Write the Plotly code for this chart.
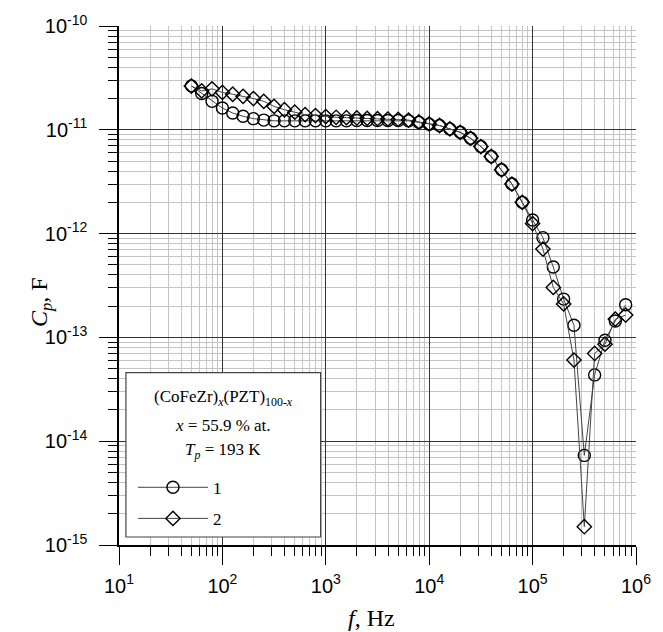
import plotly.graph_objects as go

# Frequencies (Hz)
freq = [50.1, 63.1, 79.4, 100, 125.9, 158.5, 199.5, 251.2, 316.2, 398.1,
        501.2, 631.0, 794.3, 1000, 1259, 1585, 1995, 2512, 3162, 3981,
        5012, 6310, 7943, 10000, 12589, 15849, 19953, 25119, 31623, 39811,
        50119, 63096, 79433, 100000, 125893, 158489, 199526, 251189, 316228,
        398107, 501187, 630957, 794328]

# Series 1 (circles), Cp in F
cp1 = [2.65e-11, 2.24e-11, 1.88e-11, 1.62e-11, 1.45e-11, 1.35e-11, 1.28e-11,
       1.24e-11, 1.22e-11, 1.22e-11, 1.22e-11, 1.22e-11, 1.22e-11, 1.22e-11,
       1.22e-11, 1.22e-11, 1.23e-11, 1.23e-11, 1.23e-11, 1.23e-11, 1.23e-11,
       1.22e-11, 1.18e-11, 1.13e-11, 1.10e-11, 1.02e-11, 9.46e-12, 8.28e-12,
       6.90e-12, 5.53e-12, 4.12e-12, 3.00e-12, 2.00e-12, 1.35e-12, 9.14e-13,
       4.77e-13, 2.34e-13, 1.31e-13, 7.3e-15, 4.35e-14, 9.4e-14, 1.44e-13,
       2.06e-13]

# Series 2 (diamonds), Cp in F
cp2 = [2.64e-11, 2.37e-11, 2.48e-11, 2.29e-11, 2.20e-11, 2.10e-11, 2.00e-11,
       1.88e-11, 1.68e-11, 1.56e-11, 1.48e-11, 1.40e-11, 1.37e-11, 1.34e-11,
       1.32e-11, 1.31e-11, 1.30e-11, 1.29e-11, 1.28e-11, 1.27e-11, 1.26e-11,
       1.24e-11, 1.19e-11, 1.14e-11, 1.10e-11, 1.02e-11, 9.46e-12, 8.28e-12,
       6.90e-12, 5.53e-12, 4.12e-12, 3.00e-12, 2.00e-12, 1.25e-12, 7.1e-13,
       3.03e-13, 2.10e-13, 6.05e-14, 1.5e-15, 7.0e-14, 8.6e-14, 1.5e-13,
       1.64e-13]

x_tickvals = [1e1, 1e2, 1e3, 1e4, 1e5, 1e6]
x_ticktext = ["10<sup>1</sup>", "10<sup>2</sup>", "10<sup>3</sup>",
              "10<sup>4</sup>", "10<sup>5</sup>", "10<sup>6</sup>"]
y_tickvals = [1e-15, 1e-14, 1e-13, 1e-12, 1e-11, 1e-10]
y_ticktext = ["10<sup>-15</sup>", "10<sup>-14</sup>", "10<sup>-13</sup>",
              "10<sup>-12</sup>", "10<sup>-11</sup>", "10<sup>-10</sup>"]

series_names = ["1", "2"]

fig = go.Figure()
fig.add_trace(go.Scatter(
    x=freq, y=cp1, mode="lines+markers", name=series_names[0],
    legendgroup="a",
    line=dict(color="#444444", width=1),
    marker=dict(symbol="circle-open", size=12, color="black",
                line=dict(width=1.4, color="black")),
))
fig.add_trace(go.Scatter(
    x=freq, y=cp2, mode="lines+markers", name=series_names[1],
    legendgroup="b",
    line=dict(color="#444444", width=1),
    marker=dict(symbol="diamond-open", size=11, color="black",
                line=dict(width=1.4, color="black")),
))

tick_font = dict(family="Liberation Sans, Arial, sans-serif", size=20, color="black")
serif = "Liberation Serif, Times New Roman, serif"

common = dict(
    type="log", tickfont=tick_font,
    ticks="outside", ticklen=18, tickwidth=1.3, tickcolor="black",
    showline=True, linecolor="black", linewidth=1.5,
    showgrid=True, gridcolor="#333333", gridwidth=1,
    minor=dict(dtick="D1", ticks="outside", ticklen=9, tickwidth=1.2,
               tickcolor="black", showgrid=True, gridcolor="#c4c4c4", gridwidth=1),
    zeroline=False,
)
fig.update_xaxes(range=[1, 6], tickvals=x_tickvals, ticktext=x_ticktext,
                 ticklabelstandoff=4, **common)
fig.update_yaxes(range=[-15, -10], tickvals=y_tickvals, ticktext=y_ticktext,
                 ticklabelstandoff=8, **common)

# Axis titles
fig.add_annotation(text="<i>f</i>, Hz", x=0.4885, y=-0.140, xref="paper", yref="paper",
                   showarrow=False, xanchor="center", yanchor="middle",
                   font=dict(family=serif, size=24, color="black"))
fig.add_annotation(text="<i>C</i><sub><i>p</i></sub>, F", x=-0.151, y=0.468,
                   xref="paper", yref="paper", textangle=-90,
                   showarrow=False, xanchor="center", yanchor="middle",
                   font=dict(family=serif, size=24, color="black"))

# Legend box and header text
fig.add_shape(type="rect", xref="paper", yref="paper",
              x0=0.0134, x1=0.390, y0=0.0154, y1=0.332,
              line=dict(color="#444444", width=1.2), fillcolor="white", layer="above")
header = ["(CoFeZr)<sub><i>x</i></sub>(PZT)<sub>100-<i>x</i></sub>",
          "<i>x</i> = 55.9 % at.",
          "<i>T</i><sub><i>p</i></sub> = 193 K"]
header_y = [0.284, 0.230, 0.182]
for t, yy in zip(header, header_y):
    fig.add_annotation(text=t, x=0.2017, y=yy, xref="paper", yref="paper",
                       showarrow=False, xanchor="center", yanchor="middle",
                       font=dict(family=serif, size=17, color="black"))

fig.update_layout(
    width=663, height=632,
    margin=dict(l=119, r=21, t=24, b=87),
    plot_bgcolor="white", paper_bgcolor="white",
    showlegend=True,
    legend=dict(x=0.027, y=0.145, xanchor="left", yanchor="top",
                bgcolor="rgba(0,0,0,0)", borderwidth=0,
                font=dict(family=serif, size=17, color="black"),
                tracegroupgap=6, itemwidth=70, traceorder="grouped"),
)

# remove the browser's default 8px body margin so the figure fills the window
fig.write_html("out.html", config={"displayModeBar": False},
               post_script="document.body.style.margin='0px';")
